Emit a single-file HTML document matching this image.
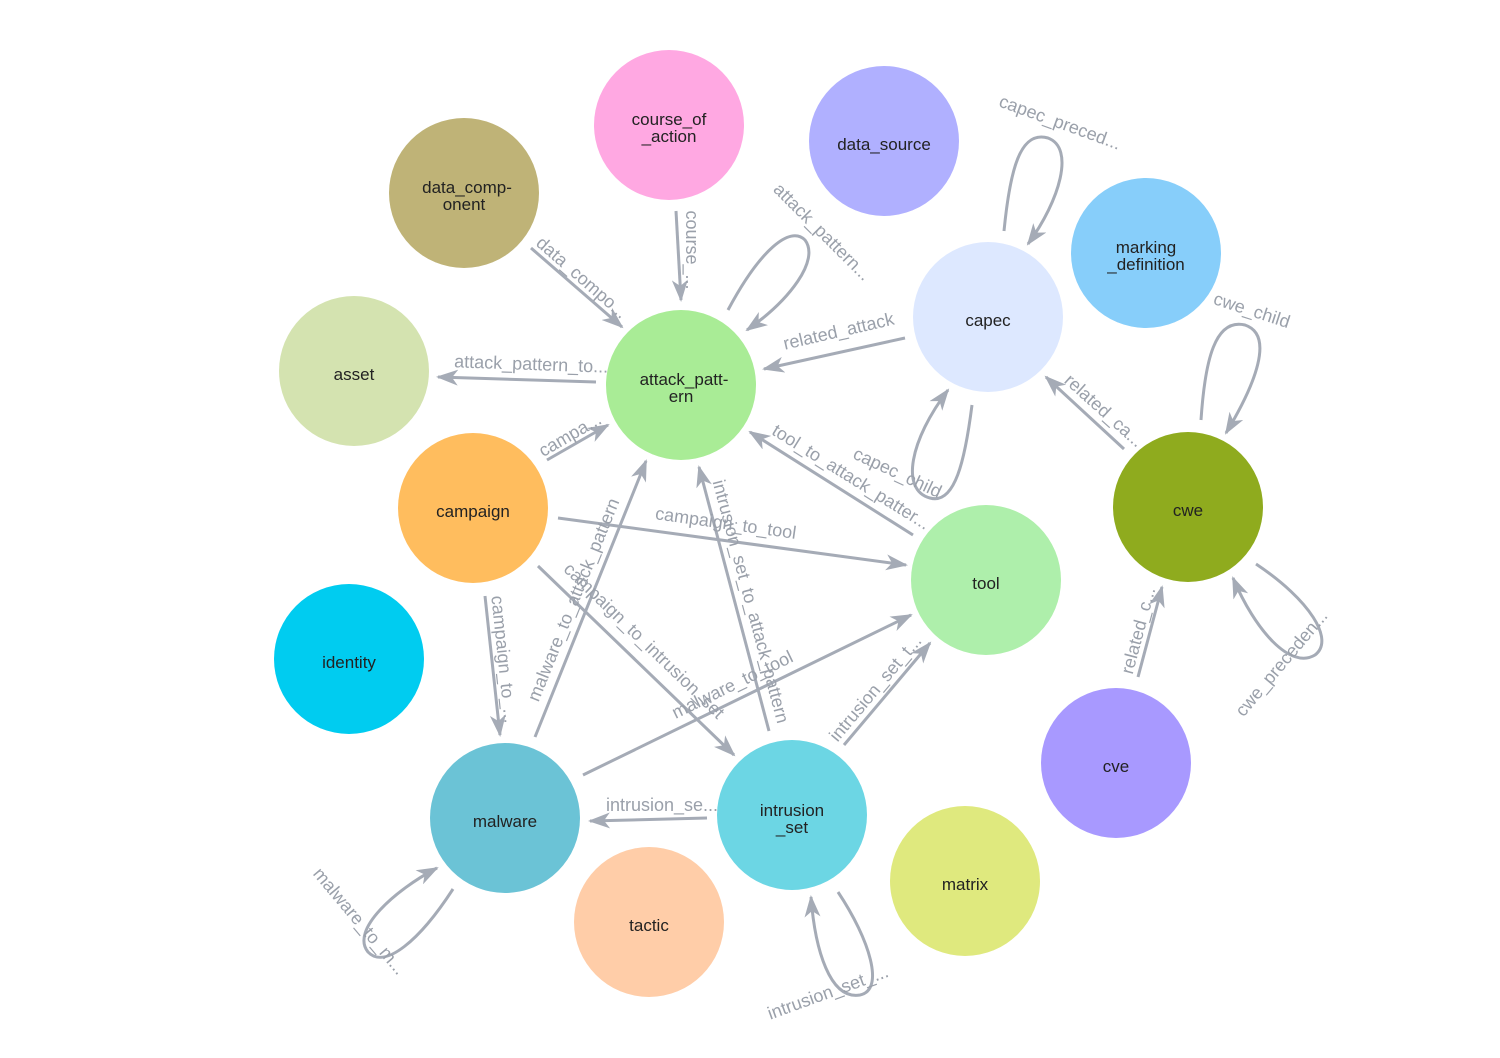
<!DOCTYPE html>
<html><head><meta charset="utf-8"><style>
html,body{margin:0;padding:0;background:#fff;}
svg{display:block;font-family:"Liberation Sans",sans-serif;}
.e{stroke:#a5abb6;stroke-width:3;fill:none;}
.l{fill:#9aa0aa;font-size:18px;text-anchor:middle;}
.n{fill:#222;font-size:17px;text-anchor:middle;}
</style></head><body>
<svg width="1500" height="1058" viewBox="0 0 1500 1058">
<defs>
<marker id="a" markerWidth="22" markerHeight="16" refX="20" refY="8" orient="auto" markerUnits="userSpaceOnUse">
<path d="M0,0 L22,8 L0,16 L6,8 z" fill="#a5abb6"/>
</marker>
</defs>
<g class="e" marker-end="url(#a)">
<line x1="531" y1="248" x2="622" y2="327"/>
<line x1="676" y1="211" x2="681" y2="300"/>
<path d="M728,310 C760,250 790,225 805,240 C820,260 790,300 747,330"/>
<line x1="905" y1="338" x2="764" y2="369"/>
<line x1="596" y1="382" x2="438" y2="377"/>
<line x1="547" y1="460" x2="608" y2="425"/>
<line x1="913" y1="535" x2="750" y2="432"/>
<path d="M972,405 C965,460 955,505 930,498 C900,490 910,440 948,390"/>
<path d="M1004,231 C1010,170 1020,130 1048,138 C1075,148 1060,200 1028,244"/>
<line x1="558" y1="518" x2="906" y2="565"/>
<line x1="1124" y1="449" x2="1046" y2="377"/>
<path d="M1201,420 C1205,360 1215,318 1245,325 C1275,335 1255,385 1226,433"/>
<path d="M1256,564 C1310,600 1335,640 1315,655 C1290,670 1255,630 1233,578"/>
<line x1="1138" y1="677" x2="1162" y2="587"/>
<line x1="485" y1="596" x2="500" y2="735"/>
<line x1="535" y1="737" x2="646" y2="461"/>
<line x1="538" y1="566" x2="734" y2="755"/>
<line x1="769" y1="731" x2="699" y2="467"/>
<line x1="583" y1="775" x2="911" y2="615"/>
<line x1="844" y1="745" x2="930" y2="643"/>
<line x1="707" y1="818" x2="590" y2="821"/>
<path d="M453,889 C420,940 385,970 368,952 C350,930 395,890 437,868"/>
<path d="M838,892 C870,940 885,990 860,995 C830,1000 815,950 811,897"/>
</g>
<g class="l">
<text transform="translate(578,282) rotate(41)">data_compo...</text>
<text transform="translate(686,250) rotate(90)">course_...</text>
<text transform="translate(818,236) rotate(45)">attack_pattern...</text>
<text transform="translate(840,337) rotate(-13)">related_attack</text>
<text transform="translate(531,370) rotate(2)">attack_pattern_to...</text>
<text transform="translate(573,440) rotate(-30)">campa...</text>
<text transform="translate(848,482) rotate(32)">tool_to_attack_patter...</text>
<text transform="translate(895,478) rotate(25)">capec_child</text>
<text transform="translate(1058,128) rotate(20)">capec_preced...</text>
<text transform="translate(725,529) rotate(8)">campaign_to_tool</text>
<text transform="translate(1100,415) rotate(42)">related_ca...</text>
<text transform="translate(1250,316) rotate(18)">cwe_child</text>
<text transform="translate(1286,667) rotate(-50)">cwe_preceden...</text>
<text transform="translate(1144,632) rotate(-75)">related_c...</text>
<text transform="translate(498,660) rotate(84)">campaign_to_...</text>
<text transform="translate(579,602) rotate(-68)">malware_to_attack_pattern</text>
<text transform="translate(640,645) rotate(44)">campaign_to_intrusion_set</text>
<text transform="translate(745,603) rotate(75)">intrusion_set_to_attack_pattern</text>
<text transform="translate(735,690) rotate(-26)">malware_to_tool</text>
<text transform="translate(880,692) rotate(-50)">intrusion_set_t...</text>
<text transform="translate(662,811)">intrusion_se...</text>
<text transform="translate(355,925) rotate(50)">malware_to_m...</text>
<text transform="translate(830,998) rotate(-20)">intrusion_set_...</text>
</g>
<g>
<circle cx="669" cy="125" r="75" fill="#ffa8e2"/>
<circle cx="884" cy="141" r="75" fill="#b0b0ff"/>
<circle cx="464" cy="193" r="75" fill="#bfb377"/>
<circle cx="1146" cy="253" r="75" fill="#87cefa"/>
<circle cx="988" cy="317" r="75" fill="#dde8ff"/>
<circle cx="354" cy="371" r="75" fill="#d4e3b0"/>
<circle cx="681" cy="385" r="75" fill="#a9ec96"/>
<circle cx="473" cy="508" r="75" fill="#ffbd5e"/>
<circle cx="1188" cy="507" r="75" fill="#8fab1e"/>
<circle cx="986" cy="580" r="75" fill="#aeefab"/>
<circle cx="349" cy="659" r="75" fill="#00ccf0"/>
<circle cx="1116" cy="763" r="75" fill="#a899ff"/>
<circle cx="505" cy="818" r="75" fill="#6bc3d6"/>
<circle cx="792" cy="815" r="75" fill="#6cd6e4"/>
<circle cx="965" cy="881" r="75" fill="#dfe97e"/>
<circle cx="649" cy="922" r="75" fill="#ffcda8"/>
</g>
<g class="n">
<text x="669" y="125">course_of</text><text x="669" y="142">_action</text>
<text x="884" y="150">data_source</text>
<text x="467" y="193">data_comp-</text><text x="464" y="210">onent</text>
<text x="1146" y="253">marking</text><text x="1146" y="270">_definition</text>
<text x="988" y="326">capec</text>
<text x="354" y="380">asset</text>
<text x="684" y="385">attack_patt-</text><text x="681" y="402">ern</text>
<text x="473" y="517">campaign</text>
<text x="1188" y="516">cwe</text>
<text x="986" y="589">tool</text>
<text x="349" y="668">identity</text>
<text x="1116" y="772">cve</text>
<text x="505" y="827">malware</text>
<text x="792" y="816">intrusion</text><text x="792" y="833">_set</text>
<text x="965" y="890">matrix</text>
<text x="649" y="931">tactic</text>
</g>
</svg>
</body></html>
